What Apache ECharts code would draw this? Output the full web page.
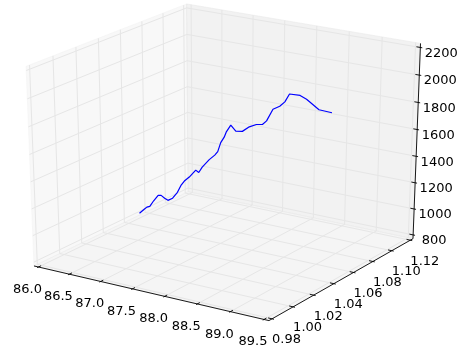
<!DOCTYPE html>
<html><head><meta charset="utf-8">
<script src="https://cdn.jsdelivr.net/npm/echarts@6/dist/echarts.min.js"></script>
<style>html,body{margin:0;padding:0;background:#fff}#c{width:457px;height:352px}</style>
</head><body><div id="c"></div>
<script>
// ---- tick values and labels ----
const xTicks = [86.0, 86.5, 87.0, 87.5, 88.0, 88.5, 89.0, 89.5];
const xTickLabels = ['86.0','86.5','87.0','87.5','88.0','88.5','89.0','89.5'];
const yTicks = [0.98, 1.00, 1.02, 1.04, 1.06, 1.08, 1.10, 1.12];
const yTickLabels = ['0.98','1.00','1.02','1.04','1.06','1.08','1.10','1.12'];
const zTicks = [800, 1000, 1200, 1400, 1600, 1800, 2000, 2200];
const zTickLabels = ['800','1000','1200','1400','1600','1800','2000','2200'];

// ---- series values (3D path) ----
const lineX = [86.740, 86.788, 86.820, 86.852, 86.895, 86.944, 86.976, 87.013, 87.048, 87.099,
  87.152, 87.190, 87.228, 87.281, 87.351, 87.383, 87.420, 87.496, 87.555, 87.587,
  87.619, 87.657, 87.678, 87.727, 87.780, 87.850, 87.924, 87.999, 88.064, 88.107,
  88.174, 88.246, 88.300, 88.348, 88.460, 88.530, 88.603, 88.664, 88.803];
const lineY = [1.0281, 1.0295, 1.0304, 1.0313, 1.0325, 1.0339, 1.0348, 1.0359, 1.0369, 1.0383,
  1.0398, 1.0409, 1.0419, 1.0434, 1.0454, 1.0463, 1.0474, 1.0495, 1.0512, 1.0521,
  1.0530, 1.0540, 1.0546, 1.0560, 1.0575, 1.0595, 1.0616, 1.0637, 1.0655, 1.0668,
  1.0687, 1.0707, 1.0722, 1.0736, 1.0768, 1.0787, 1.0808, 1.0825, 1.0864];
const lineZ = [1049.9, 1077.7, 1095.9, 1100.9, 1143.4, 1183.7, 1183.6, 1161.3, 1145.0, 1160.9,
  1204.9, 1256.3, 1289.2, 1318.4, 1369.7, 1351.1, 1391.4, 1446.3, 1479.2, 1504.8,
  1570.9, 1611.2, 1648.0, 1699.3, 1654.9, 1652.3, 1685.1, 1701.7, 1701.5, 1727.0,
  1811.4, 1833.2, 1864.6, 1921.1, 1909.5, 1881.2, 1838.9, 1804.1, 1781.4];

// ---- axis limits ----
const XLIM = [86.0, 89.5], YLIM = [0.98, 1.12], ZLIM = [800, 2200];

// ---- view (camera) ----
const ELEV = 23.5, AZIM = -57, DIST = 10;
const VIEW = {a: 2794, b: 226, c: 2151.8, d: 155.4, W: 457, H: 352};

function ext(l) { const d = (l[1] - l[0]) / 48; return [l[0] - d, l[1] + d]; }
const XB = ext(XLIM), YB = ext(YLIM), ZB = ext(ZLIM);
const el = ELEV * Math.PI / 180, az = AZIM * Math.PI / 180;
const nV = [Math.cos(az) * Math.cos(el), Math.sin(az) * Math.cos(el), Math.sin(el)];
const uV = [-Math.sin(az), Math.cos(az), 0];
const vV = [-Math.sin(el) * Math.cos(az), -Math.sin(el) * Math.sin(az), Math.cos(el)];
function dot(a, b) { return a[0] * b[0] + a[1] * b[1] + a[2] * b[2]; }
function proj(x, y, z) {
  const q = [(x - XB[0]) / (XB[1] - XB[0]) - 0.5,
             (y - YB[0]) / (YB[1] - YB[0]) - 0.5,
             (z - ZB[0]) / (ZB[1] - ZB[0]) - 0.5];
  const w = DIST - dot(nV, q);
  return [dot(uV, q) / w, dot(vV, q) / w];
}

const X_MIN = -VIEW.b / VIEW.a, X_MAX = (VIEW.W - VIEW.b) / VIEW.a;
const Y_MAX = VIEW.d / VIEW.c, Y_MIN = (VIEW.d - VIEW.H) / VIEW.c;

const FONT = '13px "DejaVu Sans"';
const GRID_COL = 'rgb(230,230,230)';

function renderFrame(params, api) {
  const c = (x, y, z) => api.coord(proj(x, y, z));
  const ch = [];
  const [x0, x1] = XB, [y0, y1] = YB, [z0, z1] = ZB;
  const pane = (pts, col) => ch.push({type: 'polygon', shape: {points: pts},
    style: {fill: col, stroke: col, lineWidth: 1}});
  // panes (x pane = left, y pane = back, z pane = floor)
  pane([c(x0, y0, z0), c(x0, y1, z0), c(x0, y1, z1), c(x0, y0, z1)], 'rgba(242,242,242,0.5)');
  pane([c(x0, y1, z0), c(x1, y1, z0), c(x1, y1, z1), c(x0, y1, z1)], 'rgba(230,230,230,0.5)');
  pane([c(x0, y0, z0), c(x1, y0, z0), c(x1, y1, z0), c(x0, y1, z0)], 'rgba(236,236,236,0.5)');
  const pl = (pts, col, w) => ch.push({type: 'polyline', shape: {points: pts},
    style: {stroke: col, lineWidth: w, fill: null}});
  // gridlines
  xTicks.forEach(t => pl([c(t, y0, z0), c(t, y1, z0), c(t, y1, z1)], GRID_COL, 1));
  yTicks.forEach(t => pl([c(x0, t, z1), c(x0, t, z0), c(x1, t, z0)], GRID_COL, 1));
  zTicks.forEach(t => pl([c(x1, y1, t), c(x0, y1, t), c(x0, y0, t)], GRID_COL, 1));
  // axis lines
  pl([c(x0, y0, z0), c(x1, y0, z0)], '#000', 0.9);
  pl([c(x1, y0, z0), c(x1, y1, z0)], '#000', 0.9);
  pl([c(x1, y1, z0), c(x1, y1, z1)], '#000', 0.9);
  // ticks
  const dx = (XLIM[1] - XLIM[0]) / 12, dy = (YLIM[1] - YLIM[0]) / 12;
  xTicks.forEach(t => pl([c(t, y0 - 0.1 * dy, z0), c(t, y0 + 0.2 * dy, z0)], '#000', 0.9));
  yTicks.forEach(t => pl([c(x1 + 0.1 * dx, t, z0), c(x1 - 0.2 * dx, t, z0)], '#000', 0.9));
  zTicks.forEach(t => pl([c(x1 + 0.1 * dx, y1, t), c(x1 - 0.2 * dx, y1, t)], '#000', 0.9));
  // tick labels
  const txt = (p, s, ox, oy) => ch.push({type: 'text', style: {text: s, x: p[0] + ox, y: p[1] + oy,
    font: FONT, fill: '#000', align: 'center', verticalAlign: 'middle'}});
  xTicks.forEach((t, i) => txt(c(t, y0, z0), xTickLabels[i], -11, 22.5));
  yTicks.forEach((t, i) => txt(c(x1, t, z0), yTickLabels[i], 14.5, 21));
  zTicks.forEach((t, i) => txt(c(x1, y1, t), zTickLabels[i], 21, 6));
  return {type: 'group', children: ch};
}

const chart = echarts.init(document.getElementById('c'), null, {renderer: 'canvas'});
chart.setOption({
  animation: false,
  backgroundColor: '#fff',
  grid: {left: 0, right: 0, top: 0, bottom: 0},
  xAxis: {type: 'value', min: X_MIN, max: X_MAX, show: false},
  yAxis: {type: 'value', min: Y_MIN, max: Y_MAX, show: false},
  series: [
    {type: 'custom', coordinateSystem: 'cartesian2d', renderItem: renderFrame,
     data: [[0, 0]], silent: true, z: 1},
    {type: 'line', data: lineX.map((x, i) => proj(x, lineY[i], lineZ[i])),
     showSymbol: false, symbol: 'none', clip: false, smooth: false,
     lineStyle: {color: '#0000ff', width: 1.2}, z: 5}
  ]
});
</script></body></html>
